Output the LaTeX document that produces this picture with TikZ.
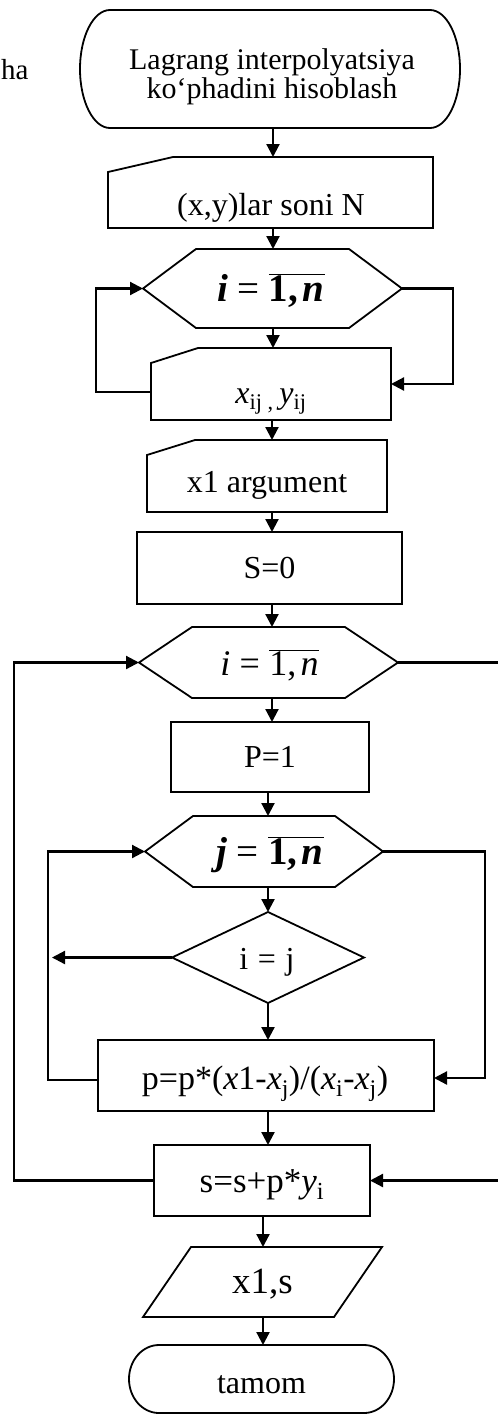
\documentclass[tikz,border=0pt]{standalone}
\usepackage{fontspec}
\setmainfont{Liberation Serif}
\usetikzlibrary{arrows.meta}
\tikzset{
  shp/.style={inner sep=0pt, outer sep=0pt, draw=none},
  ol/.style={line width=1.8pt},
  arr/.style={line width=2.2pt, -{Triangle[length=13pt,width=13pt]}},
  txt/.style={inner sep=0pt, anchor=base, font=\fontsize{32}{34}\selectfont},
  fmb/.style={inner sep=0pt, anchor=base, font=\fontsize{39}{42}\selectfont},
  fmn/.style={inner sep=0pt, anchor=base, font=\fontsize{36}{38}\selectfont},
}
\begin{document}
\begin{tikzpicture}[x=1pt,y=-1pt]
\useasboundingbox (0,0) rectangle (498,1414);
\clip (0,0) rectangle (498,1414);

% column coordinates for vertical connectors
\coordinate (cA) at (273,0);
\coordinate (cB) at (272,0);
\coordinate (cC) at (268,0);
\coordinate (cD) at (263,0);
\coordinate (redge) at (504,0);

% side text
\node[txt, anchor=base west, font=\fontsize{29}{30}\selectfont] (cha) at (1,79) {ha};

% start terminal
\node[shp, minimum width=380pt, minimum height=118pt] (start) at (270,69) {};
\draw[ol] ([xshift=30pt]start.north west) -- ([xshift=-30pt]start.north east)
  arc[start angle=90,end angle=-90,x radius=30pt,y radius=59pt]
  -- ([xshift=30pt]start.south west)
  arc[start angle=270,end angle=90,x radius=30pt,y radius=59pt] -- cycle;
\node[shp, align=center, font=\fontsize{30}{29}\selectfont] (startt) at (272,77) {Lagrang interpolyatsiya\\ko‘phadini hisoblash};

% card 1
\node[shp, minimum width=325pt, minimum height=71pt] (card1) at (270.5,192.5) {};
\draw[ol] ([yshift=-15pt]card1.north west) -- ([xshift=65pt]card1.north west) -- (card1.north east) -- (card1.south east) -- (card1.south west) -- cycle;
\node[txt] (card1t) at (271,215) {(x,y)lar soni N};

% hexagon 1
\node[shp, minimum width=259pt, minimum height=79pt] (hex1) at (272.5,288.5) {};
\draw[ol] (hex1.west) -- ([xshift=53pt]hex1.north west) -- ([xshift=-53pt]hex1.north east) -- (hex1.east) -- ([xshift=-53pt]hex1.south east) -- ([xshift=53pt]hex1.south west) -- cycle;
\node[fmb] (hex1t) at (271,301) {\textbf{\textit{i}}\hspace{.24em}=\hspace{.24em}$\overline{\hbox{\textbf{1,\kern.12em\textit{n}}}}$};

% card 2
\node[shp, minimum width=240pt, minimum height=72pt] (card2) at (271,384) {};
\draw[ol] ([yshift=-15pt]card2.north west) -- ([xshift=47pt]card2.north west) -- (card2.north east) -- (card2.south east) -- (card2.south west) -- cycle;
\node[txt] (card2t) at (271,403) {\textit{x}\textsubscript{ij\ ,\ }\textit{y}\textsubscript{ij}};

% card 3
\node[shp, minimum width=240pt, minimum height=72pt] (card3) at (267,476) {};
\draw[ol] ([yshift=-15pt]card3.north west) -- ([xshift=48pt]card3.north west) -- (card3.north east) -- (card3.south east) -- (card3.south west) -- cycle;
\node[txt] (card3t) at (267,492) {x1 argument};

% S=0
\node[shp, draw, ol, minimum width=265pt, minimum height=72pt] (s0) at (269.5,568) {};
\node[txt] (s0t) at (269.5,578) {S=0};

% hexagon 2
\node[shp, minimum width=259pt, minimum height=71pt] (hex2) at (268.5,662.5) {};
\draw[ol] (hex2.west) -- ([xshift=53pt]hex2.north west) -- ([xshift=-53pt]hex2.north east) -- (hex2.east) -- ([xshift=-53pt]hex2.south east) -- ([xshift=53pt]hex2.south west) -- cycle;
\node[fmn] (hex2t) at (269.5,675) {\textit{i}\hspace{.26em}=\hspace{.26em}$\overline{\hbox{1,\kern.12em\textit{n}}}$};

% P=1
\node[shp, draw, ol, minimum width=198pt, minimum height=70pt] (p1) at (270,757) {};
\node[txt] (p1t) at (270,767) {P=1};

% hexagon 3
\node[shp, minimum width=238pt, minimum height=71pt] (hex3) at (264,851.5) {};
\draw[ol] (hex3.west) -- ([xshift=48pt]hex3.north west) -- ([xshift=-48pt]hex3.north east) -- (hex3.east) -- ([xshift=-48pt]hex3.south east) -- ([xshift=48pt]hex3.south west) -- cycle;
\node[fmb] (hex3t) at (270,864) {\textbf{\textit{j}}\hspace{.24em}=\hspace{.24em}$\overline{\hbox{\textbf{1,\kern.12em\textit{n}}}}$};

% diamond
\node[shp, minimum width=192pt, minimum height=91pt] (dia) at (268,957.5) {};
\draw[ol] (dia.north) -- (dia.east) -- (dia.south) -- (dia.west) -- cycle;
\node[txt] (diat) at (267,969) {i\hspace{.3em}=\hspace{.3em}j};

% p box
\node[shp, draw, ol, minimum width=336pt, minimum height=71pt] (pbox) at (266,1075.5) {};
\node[txt, font=\fontsize{34}{36}\selectfont] (pboxt) at (265,1089) {p=p*(\textit{x}1-\textit{x}\textsubscript{j})/(\textit{x}\textsubscript{i}-\textit{x}\textsubscript{j})};

% s box
\node[shp, draw, ol, minimum width=216pt, minimum height=71pt] (sbox) at (262,1180.5) {};
\node[txt, font=\fontsize{35}{36}\selectfont] (sboxt) at (262,1192) {s=s+p*\textit{y}\textsubscript{i}};

% output parallelogram
\node[shp, minimum width=239pt, minimum height=70pt] (para) at (262.5,1282) {};
\draw[ol] ([xshift=48pt]para.north west) -- (para.north east) -- ([xshift=-48pt]para.south east) -- (para.south west) -- cycle;
\node[txt, font=\fontsize{37}{38}\selectfont] (parat) at (262.5,1293) {x1,s};

% end terminal
\node[shp, minimum width=265pt, minimum height=68pt] (endt) at (261.5,1379) {};
\draw[ol] ([xshift=30pt]endt.north west) -- ([xshift=-30pt]endt.north east)
  arc[start angle=90,end angle=-90,x radius=30pt,y radius=34pt]
  -- ([xshift=30pt]endt.south west)
  arc[start angle=270,end angle=90,x radius=30pt,y radius=34pt] -- cycle;
\node[txt] (endtt) at (261.5,1393) {tamom};

% vertical connectors
\draw[arr] (start.south -| cA) -- (card1.north -| cA);
\draw[arr] (card1.south -| cA) -- (hex1.north -| cA);
\draw[arr] (hex1.south -| cA) -- (card2.north -| cA);
\draw[arr] (card2.south -| cB) -- (card3.north -| cB);
\draw[arr] (card3.south -| cB) -- (s0.north -| cB);
\draw[arr] (s0.south -| cB) -- (hex2.north -| cB);
\draw[arr] (hex2.south -| cB) -- (p1.north -| cB);
\draw[arr] (p1.south -| cC) -- (hex3.north -| cC);
\draw[arr] (hex3.south -| cC) -- (dia.north);
\draw[arr] (dia.south) -- (pbox.north -| cC);
\draw[arr] (pbox.south -| cC) -- (sbox.north -| cC);
\draw[arr] (sbox.south -| cD) -- (para.north -| cD);
\draw[arr] (para.south -| cD) -- (endt.north -| cD);

% loops
\draw[arr] ([yshift=-8pt]card2.west) -- ++(-55,0) |- (hex1.west);
\draw[arr] (hex1.east) -- ++(51,0) |- (card2.east);
\draw[arr] (sbox.west) -- ++(-140,0) |- (hex2.west);
\draw[arr] (hex2.east) -- (hex2.east -| redge) -- (sbox.east -| redge) -- (sbox.east);
\draw[arr] ([yshift=-4.5pt]pbox.west) -- ++(-50,0) |- (hex3.west);
\draw[arr] (hex3.east) -- ++(102,0) |- ([yshift=-2.5pt]pbox.east);
\draw[arr] (dia.west) -- ++(-120,0);
\end{tikzpicture}
\end{document}
